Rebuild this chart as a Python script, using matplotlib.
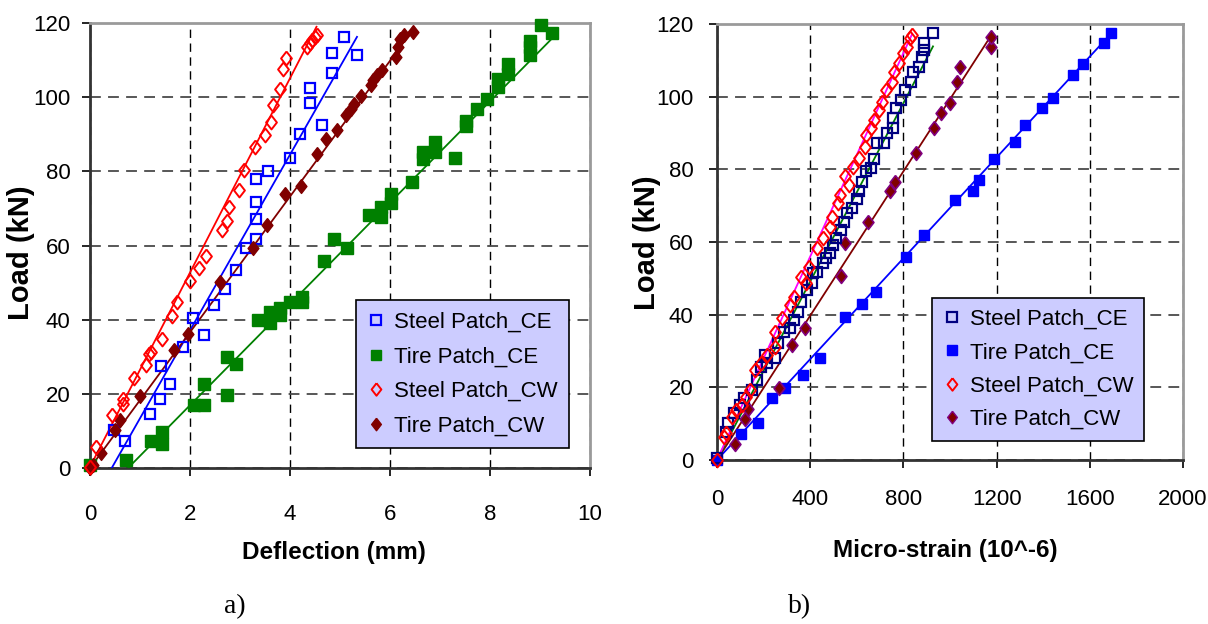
import numpy as np
import matplotlib.pyplot as plt
from matplotlib.lines import Line2D

# ---- a) load vs deflection (mm)
defl_steel_ce = [0.47, 0.70, 1.20, 1.40, 1.41, 1.60, 1.85, 2.05, 2.28, 2.48, 2.69, 2.92, 3.12,
                 3.32, 3.32, 3.32, 3.32, 3.56, 4.00, 4.20, 4.63, 4.39, 4.39, 4.83, 4.83, 5.07, 5.34]
load_steel_ce = [10.2, 7.3, 14.5, 18.7, 27.4, 22.7, 32.6, 40.5, 35.8, 44.0, 48.2, 53.5, 59.3,
                 61.8, 67.1, 71.8, 77.8, 80.1, 83.7, 90.0, 92.4, 98.4, 102.6, 106.6, 112.0, 116.2, 111.5]

defl_tire_ce = [0.0, 0.72, 1.21, 1.43, 1.43, 2.08, 2.28, 2.28, 2.73, 2.73, 2.92, 3.36, 3.59, 3.59,
                3.79, 3.79, 4.00, 4.23, 4.23, 4.67, 4.87, 5.13, 5.57, 5.82, 5.82, 6.01, 6.01, 6.44,
                6.66, 6.66, 6.89, 6.89, 7.29, 7.52, 7.52, 7.73, 7.93, 8.16, 8.16, 8.37, 8.37,
                8.80, 8.80, 8.80, 9.02, 9.24]
load_tire_ce = [0.7, 2.1, 7.2, 6.6, 9.7, 16.9, 16.9, 22.7, 19.8, 29.8, 28.1, 40.0, 39.2, 42.1,
                41.2, 43.1, 44.8, 44.8, 46.1, 55.8, 61.8, 59.4, 68.1, 67.7, 70.4, 71.5, 73.8, 77.1,
                83.4, 85.2, 85.2, 87.9, 83.7, 92.1, 93.6, 96.9, 99.6, 102.7, 105.0, 106.3, 109.0,
                111.3, 113.5, 115.1, 119.4, 117.4]

defl_steel_cw = [0.0, 0.11, 0.44, 0.65, 0.66, 0.88, 1.11, 1.18, 1.21, 1.43, 1.63, 1.73, 1.99, 2.17,
                 2.31, 2.63, 2.74, 2.78, 2.97, 3.07, 3.30, 3.49, 3.62, 3.65, 3.79, 3.85, 3.91,
                 4.33, 4.39, 4.44, 4.50, 4.53]
load_steel_cw = [0.3, 5.7, 14.2, 18.7, 17.3, 24.3, 27.7, 30.8, 31.3, 34.7, 40.9, 44.8, 50.3, 53.8,
                 57.3, 64.1, 66.5, 70.4, 74.9, 80.4, 86.6, 89.7, 93.3, 98.0, 102.3, 107.7, 110.6,
                 113.5, 114.6, 115.5, 116.2, 116.7]

defl_tire_cw = [0.0, 0.05, 0.22, 0.49, 0.59, 0.99, 1.68, 1.95, 2.60, 3.26, 3.54, 3.89, 4.21, 4.54,
                4.71, 4.94, 5.11, 5.21, 5.27, 5.42, 5.61, 5.66, 5.74, 5.83, 6.12, 6.16, 6.20,
                6.27, 6.45]
load_tire_cw = [0.0, 0.7, 4.0, 10.2, 13.0, 19.4, 31.7, 36.2, 50.2, 59.4, 65.4, 74.0, 76.0, 84.6,
                88.8, 91.1, 95.1, 96.9, 98.2, 100.3, 103.2, 104.5, 105.9, 107.4, 110.8, 113.5,
                115.8, 116.7, 117.6]

# linear trend lines: (slope, intercept)
trend_a = {"steel_ce": (23.7, -10.3), "tire_ce": (13.66, -10.4),
           "steel_cw": (26.2, 0.3), "tire_cw": (18.3, 0.0)}

# ---- b) load vs micro-strain
eps_steel_ce = [0, 38, 49, 74, 99, 115, 151, 173, 189, 206, 214, 250, 263, 288, 313, 329, 346,
                362, 387, 408, 412, 428, 453, 469, 486, 499, 510, 532, 543, 560, 579, 601, 609,
                621, 639, 663, 675, 688, 716, 729, 754, 754, 767, 790, 806, 832, 840, 869, 880,
                889, 889, 927]
load_steel_ce_b = [0.5, 7.8, 10.1, 12.8, 15.1, 17.0, 19.3, 22.0, 25.7, 28.9, 26.6, 28.0, 32.1,
                   35.3, 36.2, 38.5, 40.8, 43.6, 46.8, 48.6, 51.4, 51.8, 54.1, 55.5, 56.9, 59.2,
                   61.0, 63.3, 65.6, 67.9, 69.3, 71.7, 73.9, 76.6, 79.6, 80.3, 82.8, 87.2, 87.2,
                   89.9, 91.3, 94.0, 96.8, 99.1, 101.8, 104.1, 106.9, 108.3, 111.0, 112.8, 114.7,
                   117.4]

eps_tire_ce = [0, 102, 178, 235, 291, 370, 443, 550, 621, 683, 810, 889, 1021, 1098, 1124, 1190,
               1279, 1322, 1394, 1440, 1526, 1569, 1659, 1692]
load_tire_ce_b = [0.0, 7.2, 10.3, 17.2, 19.9, 23.4, 28.0, 39.3, 42.9, 46.3, 56.0, 61.9, 71.6,
                  73.9, 77.2, 82.8, 87.6, 92.2, 96.8, 99.5, 106.0, 108.9, 114.7, 117.4]

eps_steel_cw = [0, 28, 38, 66, 82, 107, 123, 140, 165, 189, 214, 247, 250, 280, 313, 329, 362,
                382, 395, 428, 453, 486, 494, 519, 527, 551, 568, 584, 609, 634, 639, 663, 675,
                695, 708, 724, 749, 760, 782, 798, 815, 828, 836]
load_steel_cw_b = [0.0, 6.4, 7.3, 11.9, 13.8, 15.1, 17.4, 19.3, 24.8, 26.6, 28.9, 31.2, 35.3,
                   39.0, 42.7, 45.0, 50.5, 48.6, 53.2, 58.3, 61.0, 64.2, 67.0, 70.6, 72.9, 78.2,
                   75.7, 80.7, 83.0, 86.2, 89.4, 91.3, 93.6, 96.3, 98.6, 101.8, 104.1, 106.9,
                   109.2, 111.9, 113.8, 116.1, 117.0]

eps_tire_cw = [77, 119, 135, 267, 324, 379, 532, 550, 647, 744, 764, 856, 932, 961, 1001, 1030,
               1043, 1177, 1177]
load_tire_cw_b = [4.3, 11.2, 13.9, 19.9, 31.7, 36.2, 50.6, 59.6, 65.6, 73.9, 76.6, 84.4, 91.3,
                  95.4, 98.2, 103.9, 108.1, 113.8, 116.3]

trend_b = {"steel_ce": (0.1228, 0.0), "tire_ce": (0.0694, 0.0),
           "steel_cw": (0.140, 0.0), "tire_cw": (0.0993, 0.0)}

names = ["Steel Patch_CE", "Tire Patch_CE", "Steel Patch_CW", "Tire Patch_CW"]

sans = ['Liberation Sans', 'DejaVu Sans']
plt.rcParams['font.family'] = sans

diamond = [(0, 1), (0.78, 0), (0, -1), (-0.78, 0), (0, 1)]

fig = plt.figure(figsize=(12.08, 6.24), dpi=100)
ax1 = fig.add_axes([90/1208, 1 - 468/624, 500/1208, 445/624])
ax2 = fig.add_axes([717/1208, 1 - 460/624, 466/1208, 436/624])


def style_axes(ax, xmax, xstep, xpad, ypad):
    ax.set_xlim(0, xmax)
    ax.set_ylim(0, 120)
    ax.set_xticks(np.arange(0, xmax + 1e-9, xstep))
    ax.set_yticks(np.arange(0, 121, 20))
    ax.xaxis.grid(True, color='black', linestyle=(0, (6, 4)), linewidth=1.0)
    ax.yaxis.grid(True, color='#4a4a4a', linestyle=(0, (6, 4)), linewidth=1.3)
    ax.set_axisbelow(True)
    for s in ['left', 'bottom']:
        ax.spines[s].set_color('#333333')
        ax.spines[s].set_linewidth(2)
    for s in ['top', 'right']:
        ax.spines[s].set_color('#9a9a9a')
        ax.spines[s].set_linewidth(2)
    ax.tick_params(axis='x', direction='out', length=6, width=1.2, pad=xpad, labelsize=16)
    ax.tick_params(axis='y', direction='out', length=6, width=1.2, pad=ypad, labelsize=16)


def trend(ax, xs, coef, color):
    xx = np.array([0, max(xs)])
    ax.plot(xx, coef[0] * xx + coef[1], color=color, lw=1.3, zorder=3)


def legend(ax, handles, anchor, spacing):
    leg = ax.legend(handles=handles, loc='lower left', bbox_to_anchor=anchor,
                    borderaxespad=0, fancybox=False, framealpha=1, facecolor='#CCCCFF',
                    edgecolor='black', fontsize=16, handlelength=0.8, handletextpad=0.4,
                    labelspacing=spacing, borderpad=0.5)
    leg.get_frame().set_linewidth(1.2)
    leg.set_zorder(10)


# ---------- panel a
style_axes(ax1, 10, 2, 20, 8)
trend(ax1, defl_steel_ce, trend_a["steel_ce"], '#0000FF')
trend(ax1, defl_tire_ce, trend_a["tire_ce"], '#008000')
trend(ax1, defl_steel_cw, trend_a["steel_cw"], '#FF0000')
trend(ax1, defl_tire_cw, trend_a["tire_cw"], '#800000')
ax1.plot(defl_tire_ce, load_tire_ce, 's', ms=8, mfc='#008000', mec='#008000', clip_on=False, zorder=4)
ax1.plot(defl_steel_ce, load_steel_ce, 's', ms=7.3, mfc='none', mec='#0000FF', mew=1.6, clip_on=False, zorder=4)
ax1.plot(defl_tire_cw, load_tire_cw, marker=diamond, ls='none', ms=10, mfc='#800000', mec='#800000',
         clip_on=False, zorder=4)
ax1.plot(defl_steel_cw, load_steel_cw, marker=diamond, ls='none', ms=10, mfc='none', mec='#FF0000',
         mew=1.4, clip_on=False, zorder=5)

h_a = [Line2D([], [], ls='none', marker='s', ms=6.5, mfc='none', mec='#0000FF', mew=1.6),
       Line2D([], [], ls='none', marker='s', ms=7, mfc='#008000', mec='#008000'),
       Line2D([], [], ls='none', marker=diamond, ms=9, mfc='none', mec='#FF0000', mew=1.4),
       Line2D([], [], ls='none', marker=diamond, ms=9, mfc='#800000', mec='#800000')]
for h, n in zip(h_a, names):
    h.set_label(n)
legend(ax1, h_a, (0.532, 0.045), 0.62)

# ---------- panel b
style_axes(ax2, 2000, 400, 15, 11)
trend(ax2, eps_tire_ce, trend_b["tire_ce"], '#0000FF')
trend(ax2, eps_tire_cw, trend_b["tire_cw"], '#800000')
ax2.plot(eps_tire_ce, load_tire_ce_b, 's', ms=7.5, mfc='#0000FF', mec='#0000FF', clip_on=False, zorder=4)
ax2.plot(eps_tire_cw, load_tire_cw_b, marker=diamond, ls='none', ms=10, mfc='#800000', mec='#800080',
         mew=1.2, clip_on=False, zorder=4)
ax2.plot(eps_steel_ce, load_steel_ce_b, 's', ms=7.5, mfc='none', mec='#000080', mew=1.6, clip_on=False, zorder=4)
ax2.plot(eps_steel_cw, load_steel_cw_b, marker=diamond, ls='none', ms=10, mfc='none', mec='#FF0000',
         mew=1.4, clip_on=False, zorder=5)
trend(ax2, eps_steel_ce, trend_b["steel_ce"], '#008000')
trend(ax2, eps_steel_cw, trend_b["steel_cw"], '#FF00FF')

h_b = [Line2D([], [], ls='none', marker='s', ms=6.5, mfc='none', mec='#000080', mew=1.6),
       Line2D([], [], ls='none', marker='s', ms=7, mfc='#0000FF', mec='#0000FF'),
       Line2D([], [], ls='none', marker=diamond, ms=9, mfc='none', mec='#FF0000', mew=1.4),
       Line2D([], [], ls='none', marker=diamond, ms=9, mfc='#800000', mec='#800080')]
for h, n in zip(h_b, names):
    h.set_label(n)
legend(ax2, h_b, (0.461, 0.044), 0.55)

# ---------- labels
fig.text(334/1208, 1 - 553/624, 'Deflection (mm)', ha='center', va='center',
         fontsize=17.5, fontweight='bold')
fig.text(945/1208, 1 - 551/624, 'Micro-strain (10^-6)', ha='center', va='center',
         fontsize=17.5, fontweight='bold')
fig.text(21/1208, 1 - 253/624, 'Load (kN)', ha='center', va='center', rotation=90,
         fontsize=21, fontweight='bold')
fig.text(647/1208, 1 - 243/624, 'Load (kN)', ha='center', va='center', rotation=90,
         fontsize=21, fontweight='bold')

serif = ['Liberation Serif', 'DejaVu Serif']
fig.text(235/1208, 1 - 607/624, 'a)', ha='center', va='center', fontsize=20, family=serif)
fig.text(800/1208, 1 - 607/624, 'b)', ha='center', va='center', fontsize=20, family=serif)

fig.savefig('out.png', dpi=100)
